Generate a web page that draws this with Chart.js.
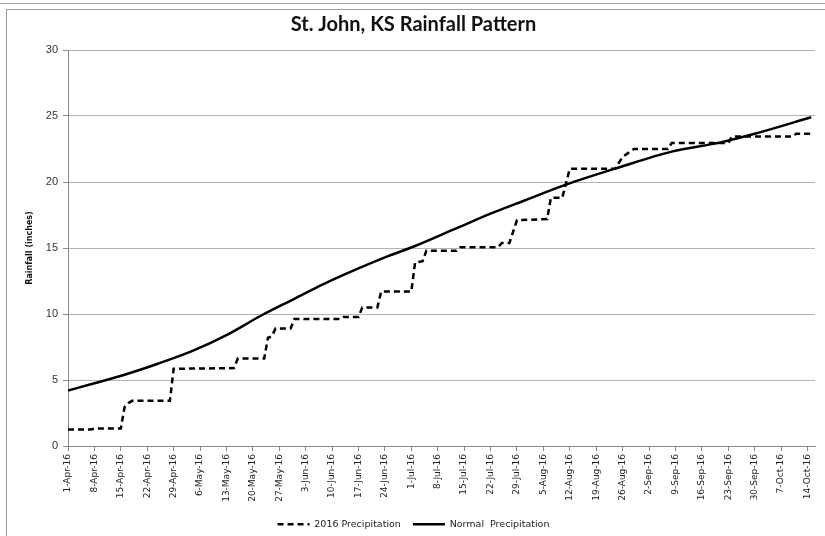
<!DOCTYPE html>
<html>
<head>
<meta charset="utf-8">
<script src="https://cdn.jsdelivr.net/npm/chart.js@4.4.1/dist/chart.umd.min.js"></script>
<style>
  html, body { margin: 0; padding: 0; background: #fff; }
  #wrap { position: relative; width: 825px; height: 536px; overflow: hidden; }
  #line { position: absolute; left: 0; top: 3px; width: 825px; height: 0; border-top: 1px solid #a6a6a6; }
  #frame { position: absolute; left: 6px; top: 9px; width: 840px; height: 560px; border: 1px solid #9a9a9a; }
  #grafico { position: absolute; left: 0; top: 0; }
</style>
</head>
<body>
<div id="wrap">
  <div id="line"></div>
  <div id="frame"></div>
  <canvas id="grafico" width="825" height="536"></canvas>
</div>
<script>
// tick labels, one every 7 days starting 1-Apr-16 (day 0)
const tickLabels = ['1-Apr-16','8-Apr-16','15-Apr-16','22-Apr-16','29-Apr-16','6-May-16','13-May-16',
  '20-May-16','27-May-16','3-Jun-16','10-Jun-16','17-Jun-16','24-Jun-16','1-Jul-16','8-Jul-16',
  '15-Jul-16','22-Jul-16','29-Jul-16','5-Aug-16','12-Aug-16','19-Aug-16','26-Aug-16','2-Sep-16',
  '9-Sep-16','16-Sep-16','23-Sep-16','30-Sep-16','7-Oct-16','14-Oct-16']

// 2016 precipitation (cumulative inches), days since 1-Apr
const precipDays = [0, 6, 7, 14, 15, 16, 17, 27, 28, 44, 45, 52, 53, 54, 55, 59, 60, 72, 73, 77, 78, 82,
  83, 91, 92, 94, 95, 103, 104, 114, 115, 117, 119, 127, 128, 131, 133, 145, 147, 150, 159, 160, 175,
  176, 192, 193, 197]
const precip2016 = [1.25, 1.25, 1.32, 1.32, 2.95, 3.25, 3.42, 3.42, 5.85, 5.9, 6.62, 6.62, 8.2, 8.3, 8.9,
  8.9, 9.62, 9.62, 9.78, 9.78, 10.5, 10.5, 11.7, 11.7, 13.9, 14.0, 14.8, 14.8, 15.06, 15.06, 15.38,
  15.38, 17.1, 17.2, 18.8, 18.8, 21.0, 21.0, 21.9, 22.5, 22.5, 22.95, 22.95, 23.45, 23.45, 23.65, 23.65]

// normal precipitation
const normalDays = [0, 7, 15, 24, 33, 42, 51, 60, 68, 77, 85, 92, 103, 112, 121, 132, 146, 160, 173, 182, 197]
const normalValues = [4.2, 4.75, 5.4, 6.25, 7.2, 8.4, 9.85, 11.15, 12.3, 13.45, 14.4, 15.15, 16.5, 17.6,
  18.6, 19.8, 21.1, 22.3, 23.0, 23.65, 24.9]

const armarPuntos = (dias, valores) => dias.map((d, i) => ({ x: d, y: valores[i] }))

const config = {
  type: 'line',
  data: {
    datasets: [{
      label: '2016 Precipitation',
      data: armarPuntos(precipDays, precip2016),
      borderColor: '#000',
      borderWidth: 2.5,
      borderDash: [6, 4],
      pointRadius: 0,
      tension: 0
    }, {
      label: 'Normal  Precipitation',
      data: armarPuntos(normalDays, normalValues),
      borderColor: '#000',
      borderWidth: 2.5,
      pointRadius: 0,
      cubicInterpolationMode: 'monotone'
    }]
  },
  options: {
    responsive: false,
    animation: false,
    layout: { padding: { left: 12, right: 10, top: 0, bottom: -3 } },
    plugins: {
      title: {
        display: true,
        text: 'St. John, KS Rainfall Pattern',
        color: '#111',
        font: { family: 'Lato', size: 20, weight: 'bold' },
        padding: { top: 13, bottom: 13 }
      },
      legend: {
        position: 'bottom',
        labels: {
          usePointStyle: true,
          pointStyle: 'line',
          pointStyleWidth: 32,
          padding: 12,
          color: '#222',
          font: { family: 'DejaVu Sans', size: 9.5 },
          // el estilo de punto no trae el borderDash del dataset
          generateLabels: (chart) => Chart.defaults.plugins.legend.labels.generateLabels(chart).map((item, i) => {
            item.lineDash = chart.data.datasets[i].borderDash || []
            item.lineWidth = 2.5
            item.strokeStyle = '#000'
            return item
          })
        }
      },
      tooltip: { enabled: false }
    },
    scales: {
      x: {
        type: 'linear',
        min: 0,
        max: 198,
        afterFit: (scale) => { scale.height = 61.5 },
        grid: { drawOnChartArea: false, drawTicks: true, tickLength: 5, color: '#888' },
        border: { display: true, color: '#888' },
        ticks: {
          stepSize: 7,
          includeBounds: false,
          autoSkip: false,
          minRotation: 90,
          maxRotation: 90,
          padding: 3,
          color: '#222',
          font: { family: 'DejaVu Sans', size: 9 },
          callback: (value) => tickLabels[Math.round(value / 7)]
        }
      },
      y: {
        min: 0,
        max: 30,
        afterFit: (scale) => { scale.width = 56 },
        grid: { color: '#b4b4b4', tickLength: 5, tickColor: '#888' },
        border: { display: true, color: '#888' },
        ticks: {
          stepSize: 5,
          padding: 5,
          color: '#333',
          font: { family: 'Liberation Sans', size: 11 }
        },
        title: {
          display: true,
          text: 'Rainfall (inches)',
          color: '#111',
          font: { family: 'DejaVu Sans', size: 8, weight: 'bold' },
          padding: { top: 13, bottom: 0 }
        }
      }
    }
  }
}

const myChart = document.getElementById('grafico')
const miGrafico = new Chart(myChart, config)
</script>
</body>
</html>
